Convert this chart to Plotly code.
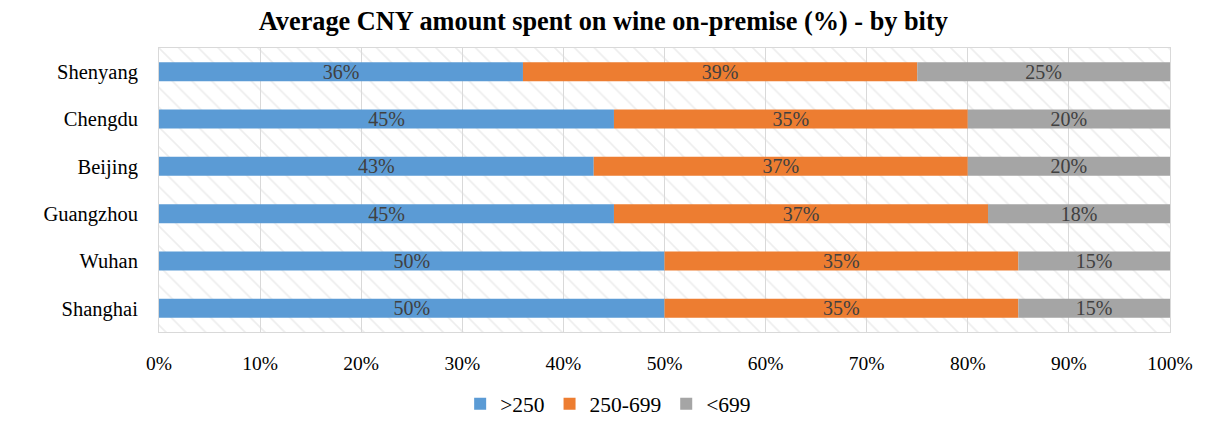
import plotly.graph_objects as go

cities = ["Shanghai", "Wuhan", "Guangzhou", "Beijing", "Chengdu", "Shenyang"]
series_names = [">250", "250-699", "<699"]
v_gt250 = [50, 50, 45, 43, 45, 36]
v_250_699 = [35, 35, 37, 37, 35, 39]
v_lt699 = [15, 15, 18, 20, 20, 25]
colors = ["#5B9BD5", "#ED7D31", "#A5A5A5"]
tick_vals = [0, 10, 20, 30, 40, 50, 60, 70, 80, 90, 100]
tick_text = [f"{t}%" for t in tick_vals]

FONT = "Liberation Serif, Times New Roman, serif"

ypos = list(range(len(cities)))
series = [v_gt250, v_250_699, v_lt699]

fig = go.Figure()

# hatched plot-area background (spans the full axis range)
fig.add_trace(go.Bar(
    y=[(len(cities) - 1) / 2], x=[100], base=[0], width=[len(cities)],
    orientation="h", showlegend=False, hoverinfo="skip",
    marker=dict(color="rgba(255,255,255,0)", line=dict(width=0),
                pattern=dict(shape="\\", fgcolor="#DCDCDC", bgcolor="rgba(255,255,255,0)",
                             size=14, solidity=0.12)),
))

base = [0] * len(cities)
for name, vals, col in zip(series_names, series, colors):
    fig.add_trace(go.Bar(
        y=ypos, x=vals, base=list(base), name=name, orientation="h",
        width=0.4,
        marker=dict(color=col, line=dict(width=0)),
        text=[f"{v}%" for v in vals], textposition="inside",
        insidetextanchor="middle", constraintext="none",
        textfont=dict(family=FONT, size=20, color="#404040"),
    ))
    base = [b + v for b, v in zip(base, vals)]

fig.update_layout(
    barmode="overlay",
    width=1210, height=421,
    margin=dict(l=151, r=48, t=40, b=97),
    paper_bgcolor="white",
    plot_bgcolor="white",
    title=dict(text="<b>Average CNY amount spent on wine on-premise (%) - by bity</b>",
               x=0.492, xanchor="center", y=0.992, yanchor="top",
               pad=dict(t=0, b=0),
               font=dict(family=FONT, size=26.3, color="#000000")),
    font=dict(family=FONT, size=20, color="#000000"),
    xaxis=dict(range=[0, 100], tickvals=tick_vals, ticktext=tick_text,
               showgrid=True, gridcolor="#D9D9D9", gridwidth=1,
               zeroline=False, showline=True, linecolor="#D9D9D9", mirror=True,
               ticks="", tickfont=dict(family=FONT, size=19.5),
               ticklabelstandoff=14, automargin=False),
    yaxis=dict(range=[-0.5, len(cities) - 0.5], tickvals=ypos, ticktext=cities,
               showgrid=False, zeroline=False,
               showline=True, linecolor="#D9D9D9", mirror=True,
               tickfont=dict(family=FONT, size=20.5), ticks="",
               ticklabelstandoff=16, automargin=False),
    legend=dict(orientation="h", xref="container", yref="container",
                x=0.496, xanchor="center", y=0.06, yanchor="middle",
                font=dict(family=FONT, size=21.5), traceorder="normal",
                itemwidth=30),
    uniformtext=dict(minsize=20, mode="show"),
)

fig.write_html("out.html")
